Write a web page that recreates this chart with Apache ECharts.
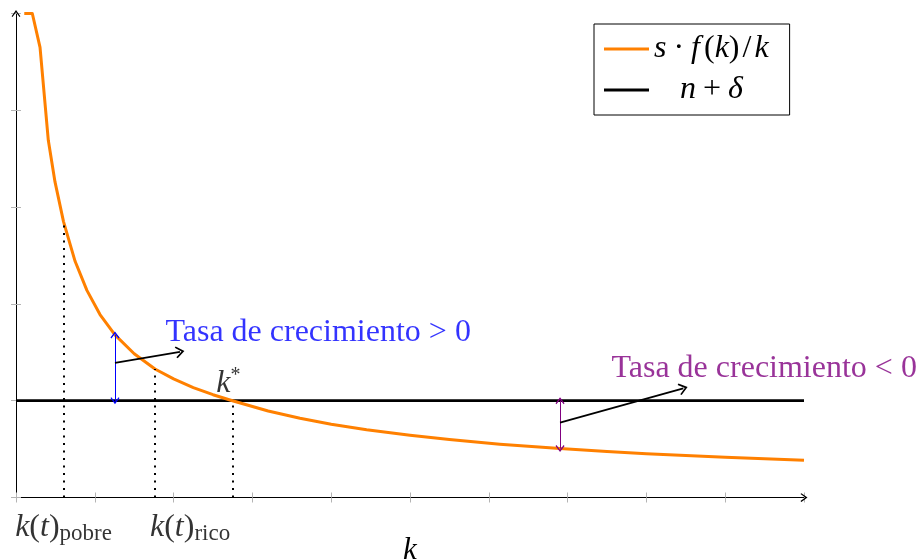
<!DOCTYPE html>
<html><head><meta charset="utf-8">
<script src="https://cdn.jsdelivr.net/npm/echarts@6/dist/echarts.min.js"></script>
<style>html,body{margin:0;padding:0;background:#fff}#c{width:920px;height:559px}</style>
</head><body><div id="c"></div>
<script>
// ---- data ----
// s·f(k)/k  (the first two points are where the curve runs along the top of the axis)
const kValues      = [0.105, 0.207, 0.305, 0.41, 0.495, 0.603, 0.75, 0.90, 1.066, 1.256, 1.50, 1.764, 2.0,   2.25,  2.5,   2.747, 3.2,   3.604, 4.0,   4.45, 5.0,   5.5,   6.14,  6.904, 7.5,   8.0,   9.0,   10.0];
const growthValues = [5.0,   5.0,   4.65,  3.69, 3.26,  2.85,  2.44, 2.14, 1.89,  1.68,  1.485, 1.327, 1.225, 1.136, 1.062, 1.0,   0.893, 0.818, 0.757, 0.70, 0.642, 0.598, 0.551, 0.505, 0.475, 0.453, 0.415, 0.384];
const nDeltaK      = [0, 10];
const nDeltaValue  = 1;
const kPobre = 0.603, kRico = 1.764, kStar = 2.747;
const yPobre = 2.85,  yRico = 1.327;
const kPosArrow = 1.256, yPosTop = 1.68;         // blue double arrow
const kNegArrow = 6.904, yNegBottom = 0.505;     // purple double arrow
const posPointer = [[1.256, 1.39], [2.081, 1.505]];
const negPointer = [[6.904, 0.773], [8.468, 1.128]];
const posText = [1.89, 1.70], negText = [7.55, 1.33];
const xTicks = [0, 10, 1], yTicks = [0, 5, 1];
const seriesNames = ['s·f(k)/k', 'n+δ'];

const SERIF = '"Liberation Serif","DejaVu Serif",serif';
const CHEV = 'path://M5,0L10,7L9,8L5,2.6L1,8L0,7Z';
const ORANGE = '#ff8000', BLUE = '#0000ff', PURPLE = '#800080', GRAY = '#b4b4b4';

function tok(extra) {
  return Object.assign({fontFamily: SERIF, fontSize: 32, lineHeight: 34, color: '#000'}, extra || {});
}
const mathRich = {
  i: tok({fontStyle: 'italic'}),
  u: tok(),
  op: tok({padding: [0, 7, 0, 7]}),
  f: tok({fontStyle: 'italic', padding: [0, 4, 0, 0]}),
  sl: tok({padding: [0, 3, 0, 3]}),
  pn: tok({fontStyle: 'italic', padding: [0, 0, 0, 26]}),
  sub: {fontFamily: SERIF, fontSize: 23, lineHeight: 23, color: '#000', verticalAlign: 'bottom'},
  sup: {fontFamily: SERIF, fontSize: 20, lineHeight: 20, color: '#000', verticalAlign: 'top'}
};

const curveData = kValues.map((k, i) => [k, growthValues[i]]);
const ndData = nDeltaK.map(k => [k, nDeltaValue]);

function axisX(inside, showLine) {
  return {type: 'value', min: xTicks[0], max: xTicks[1], interval: xTicks[2], position: 'bottom',
    axisLine: {show: showLine, onZero: false, lineStyle: {color: '#000', width: 1}, symbol: ['none', CHEV], symbolSize: [9, 7]},
    axisTick: {show: true, inside: inside, length: 5, lineStyle: {color: GRAY, width: 1}},
    axisLabel: {show: false}, splitLine: {show: false}};
}
function axisY(inside, showLine) {
  return {type: 'value', min: yTicks[0], max: yTicks[1], interval: yTicks[2], position: 'left',
    axisLine: {show: showLine, onZero: false, lineStyle: {color: '#000', width: 1}, symbol: ['none', CHEV], symbolSize: [9, 7]},
    axisTick: {show: true, inside: inside, length: 5, lineStyle: {color: GRAY, width: 1}},
    axisLabel: {show: false}, splitLine: {show: false}};
}

const xAxis0 = axisX(false, true);
xAxis0.name = 'k';
xAxis0.nameLocation = 'middle';
xAxis0.nameGap = 38;
xAxis0.nameTextStyle = {fontFamily: SERIF, fontStyle: 'italic', fontSize: 31, lineHeight: 30, color: '#000'};

const option = {
  animation: false,
  backgroundColor: '#fff',
  grid: {left: 16, right: 116, top: 13.5, bottom: 61.5, containLabel: false, outerBoundsMode: 'none'},
  xAxis: [xAxis0, axisX(true, false)],
  yAxis: [axisY(false, true), axisY(true, false)],
  legend: {
    left: 594, top: 24, orient: 'vertical', data: seriesNames,
    icon: 'rect', itemWidth: 45, itemHeight: 3, itemGap: 9,
    padding: [9, 21, 9, 10], borderColor: '#000', borderWidth: 1,
    textStyle: {rich: mathRich},
    formatter: n => n === seriesNames[0]
      ? '{i|s}{op|·}{f|f}{u|(}{i|k}{u|)}{sl|/}{i|k}'
      : '{pn|n}{op|+}{i|δ}'
  },
  series: [
    {name: seriesNames[1], type: 'line', data: ndData, symbol: 'none', z: 3,
     lineStyle: {color: '#000', width: 2.8}, itemStyle: {color: '#000'}},
    {name: seriesNames[0], type: 'line', data: curveData, symbol: 'none', clip: false, z: 4,
     lineStyle: {color: ORANGE, width: 3, join: 'round'}, itemStyle: {color: ORANGE}},
    // dotted guide lines
    {type: 'line', data: [], z: 2, silent: true,
     markLine: {silent: true, symbol: 'none', label: {show: false}, animation: false,
       lineStyle: {color: '#000', width: 2, type: [2, 5.5]},
       data: [
         [{coord: [kPobre, 0]}, {coord: [kPobre, yPobre]}],
         [{coord: [kRico, 0]}, {coord: [kRico, yRico]}],
         [{coord: [kStar, 0]}, {coord: [kStar, nDeltaValue]}]
       ]}},
    // annotation arrows
    {type: 'line', data: [], z: 5, silent: true,
     markLine: {silent: true, symbol: [CHEV, CHEV], symbolSize: [9, 7], label: {show: false}, animation: false,
       lineStyle: {color: BLUE, width: 1, type: 'solid'},
       data: [[{coord: [kPosArrow, nDeltaValue]}, {coord: [kPosArrow, yPosTop]}]]}},
    {type: 'line', data: [], z: 5, silent: true,
     markLine: {silent: true, symbol: [CHEV, CHEV], symbolSize: [9, 7], label: {show: false}, animation: false,
       lineStyle: {color: PURPLE, width: 1, type: 'solid'},
       data: [[{coord: [kNegArrow, nDeltaValue]}, {coord: [kNegArrow, yNegBottom]}]]}},
    {type: 'line', data: [], z: 6, silent: true,
     markLine: {silent: true, symbol: ['none', CHEV], symbolSize: [12, 9], label: {show: false}, animation: false,
       lineStyle: {color: '#000', width: 1.8, type: 'solid'},
       data: [
         [{coord: posPointer[0]}, {coord: posPointer[1]}],
         [{coord: negPointer[0]}, {coord: negPointer[1]}]
       ]}},
    // text labels
    {type: 'scatter', symbolSize: 1, itemStyle: {color: 'transparent'}, silent: true, clip: false, z: 7,
     data: [
       {value: [kPobre, 0], label: {show: true, position: 'bottom', distance: 13, rich: mathRich,
         formatter: '{i|k}{u|(}{i|t}{u|)}{sub|pobre}'}},
       {value: [kRico, 0], label: {show: true, position: 'bottom', distance: 13, align: 'left', offset: [-5, 0], rich: mathRich,
         formatter: '{i|k}{u|(}{i|t}{u|)}{sub|rico}'}},
       {value: [kStar, nDeltaValue], label: {show: true, position: 'top', distance: 0, offset: [-4, 0], rich: mathRich,
         formatter: '{i|k}{sup|*}'}},
       {value: posText, label: {show: true, position: 'right', distance: 0, color: BLUE,
         fontFamily: SERIF, fontSize: 32, formatter: 'Tasa de crecimiento > 0'}},
       {value: negText, label: {show: true, position: 'right', distance: 0, color: PURPLE,
         fontFamily: SERIF, fontSize: 32, formatter: 'Tasa de crecimiento < 0'}}
     ]}
  ]
};
const chart = echarts.init(document.getElementById('c'), null, {renderer: 'canvas'});
chart.setOption(option);
</script>
</body></html>
